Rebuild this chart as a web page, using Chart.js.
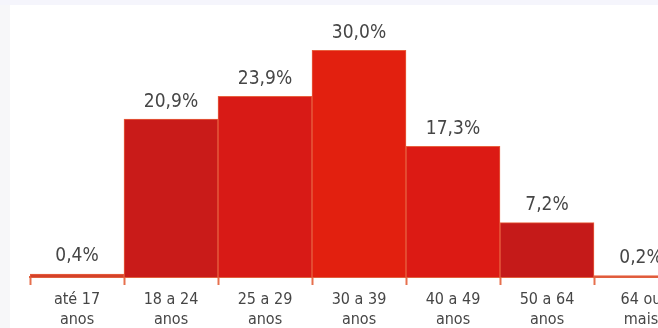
<!DOCTYPE html>
<html>
<head>
<meta charset="utf-8">
<script src="https://cdn.jsdelivr.net/npm/chart.js@4/dist/chart.umd.min.js"></script>
<style>
  html, body { margin: 0; padding: 0; }
  body { width: 658px; height: 328px; overflow: hidden; background: #f7f7f9; position: relative; }
  #top_strip { position: absolute; left: 0; top: 0; width: 658px; height: 5px; background: #f5f5fc; }
  #chart_container { position: absolute; left: 10px; top: 5px; width: 700px; height: 323px; background: #ffffff; }
</style>
</head>
<body>
<div id="top_strip"></div>
<div id="chart_container"><canvas id="bar_chart" width="700" height="323"></canvas></div>
<script>
let faixas = [['até 17', 'anos'], ['18 a 24', 'anos'], ['25 a 29', 'anos'], ['30 a 39', 'anos'], ['40 a 49', 'anos'], ['50 a 64', 'anos'], ['64 ou', 'mais']];
let percentuais = [0.4, 20.9, 23.9, 30.0, 17.3, 7.2, 0.2];
let cores = ['#d4402a', '#c91b19', '#d81a16', '#e2200f', '#dc1a14', '#c51a19', '#e05a3c'];

// rótulos em cima das barras (vírgula decimal)
const rotulos = {
    id: 'rotulos',
    afterDatasetsDraw(chart) {
        const ctx = chart.ctx;
        const meta = chart.getDatasetMeta(0);
        ctx.save();
        ctx.font = '19px "DejaVu Sans Condensed", "DejaVu Sans", sans-serif';
        ctx.fillStyle = '#464646';
        ctx.textAlign = 'center';
        ctx.textBaseline = 'bottom';
        meta.data.forEach((bar, i) => {
            let txt = percentuais[i].toFixed(1).replace('.', ',') + '%';
            ctx.fillText(txt, bar.x, bar.y - 8);
        });
        ctx.restore();
    }
};

var ctx = document.getElementById('bar_chart').getContext('2d');
var bar_chart = new Chart(ctx, {
    type: 'bar',
    data: {
        labels: faixas,
        datasets: [{
            data: percentuais,
            backgroundColor: cores,
            borderColor: '#e8603f',
            borderWidth: 1,
            borderSkipped: 'bottom',
            categoryPercentage: 1.0,
            barPercentage: 1.0
        }]
    },
    options: {
        responsive: false,
        animation: false,
        layout: { padding: { left: 20, right: 22, top: 0, bottom: 0 } },
        plugins: {
            legend: { display: false },
            tooltip: { enabled: false }
        },
        scales: {
            y: {
                display: false,
                min: 0,
                max: 36
            },
            x: {
                afterFit: s => { s.height = 51; },
                border: { display: true, color: '#e0603e', width: 2 },
                grid: {
                    display: true,
                    drawOnChartArea: false,
                    drawTicks: true,
                    tickLength: 8,
                    tickWidth: 2,
                    color: '#e6704e'
                },
                ticks: {
                    color: '#464646',
                    padding: 4,
                    maxRotation: 0,
                    autoSkip: false,
                    font: { family: '"DejaVu Sans Condensed", "DejaVu Sans", sans-serif', size: 16, lineHeight: 1.3 }
                }
            }
        }
    },
    plugins: [rotulos]
});
</script>
</body>
</html>
